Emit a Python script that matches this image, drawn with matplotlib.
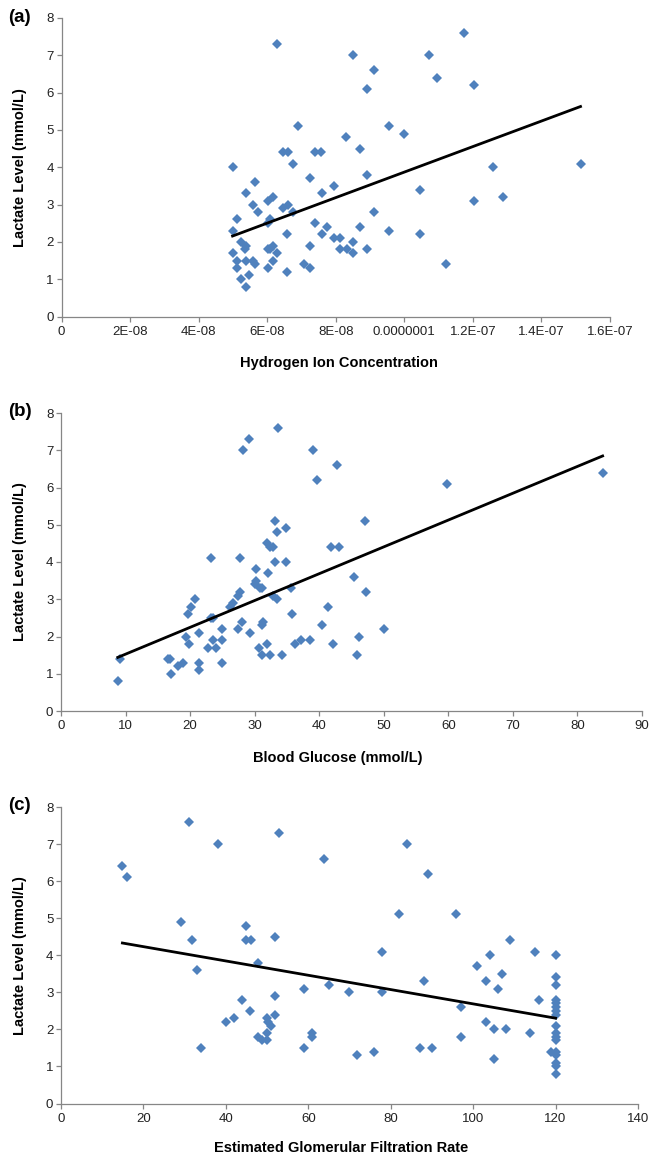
import numpy as np
import matplotlib
matplotlib.use("Agg")
import matplotlib.pyplot as plt
from matplotlib.ticker import FixedLocator, FixedFormatter, MultipleLocator

plt.rcParams['font.family'] = ['Liberation Sans', 'DejaVu Sans']

# ---------------- data ----------------
# (a) hydrogen ion concentration in nmol/L (x1e-9 mol/L) vs lactate
h_ion_nmol = [63.0, 85.0, 91.1, 89.2, 69.0, 95.5, 100.0, 83.1, 87.1, 64.5,
              66.0, 74.0, 75.8, 67.6, 50.0, 89.2, 72.4, 56.3, 79.5, 53.7,
              75.9, 60.1, 61.7, 56.0, 64.5, 66.0, 67.5, 57.4, 91.1, 51.1,
              60.9, 60.1, 49.9, 74.0, 77.5, 87.1, 95.5, 65.9, 75.9, 79.5,
              81.3, 52.3, 53.7, 53.5, 85.1, 50.0, 60.9, 61.7, 60.1, 63.0,
              72.4, 81.3, 83.3, 85.1, 89.2, 51.1, 53.7, 56.0, 56.3, 61.6,
              51.1, 60.1, 70.6, 72.4, 52.3, 54.8, 65.9, 53.7,
              117.5, 107.2, 109.6, 120.2, 126.0, 151.4, 104.7, 120.2, 128.9,
              104.7, 112.3]
lactate_a = [7.3, 7.0, 6.6, 6.1, 5.1, 5.1, 4.9, 4.8, 4.5, 4.4,
             4.4, 4.4, 4.4, 4.1, 4.0, 3.8, 3.7, 3.6, 3.5, 3.3,
             3.3, 3.1, 3.2, 3.0, 2.9, 3.0, 2.8, 2.8, 2.8, 2.6,
             2.6, 2.5, 2.3, 2.5, 2.4, 2.4, 2.3, 2.2, 2.2, 2.1,
             2.1, 2.0, 1.9, 1.8, 2.0, 1.7, 1.8, 1.9, 1.8, 1.7,
             1.9, 1.8, 1.8, 1.7, 1.8, 1.5, 1.5, 1.5, 1.4, 1.5,
             1.3, 1.3, 1.4, 1.3, 1.0, 1.1, 1.2, 0.8,
             7.6, 7.0, 6.4, 6.2, 4.0, 4.1, 3.4, 3.1, 3.2,
             2.2, 1.4]
trend_a = (3.42e7, 0.45)  # slope per mol/L, intercept
xticks_a = [0, 2e-8, 4e-8, 6e-8, 8e-8, 1e-7, 1.2e-7, 1.4e-7, 1.6e-7]
xticklabels_a = ["0", "2E-08", "4E-08", "6E-08", "8E-08", "0.0000001",
                 "1.2E-07", "1.4E-07", "1.6E-07"]

# (b) blood glucose vs lactate
glucose = [33.6, 29.1, 28.2, 33.1, 34.9, 33.5, 31.9, 32.3, 32.9, 23.2,
           27.7, 33.2, 34.9, 30.2, 32.1, 30.2, 30.0, 30.8, 31.1, 27.7,
           27.4, 26.7, 26.2, 32.9, 33.5, 20.8, 20.1, 19.7, 23.6, 23.2,
           28.1, 27.4, 31.3, 31.1, 24.9, 29.3, 21.4, 19.4, 19.9, 23.6,
           24.0, 25.0, 22.7, 30.6, 31.9, 31.1, 32.4, 34.2, 16.5, 16.9,
           25.0, 18.2, 18.9, 21.4, 21.3, 17.1, 8.8, 9.1,
           39.0, 42.7, 39.6, 59.8, 83.9, 47.1, 41.8, 43.0, 45.4, 47.2,
           35.6, 35.8, 41.3, 40.4, 50.0, 36.3, 37.2, 38.6, 42.1, 46.1, 45.8]
lactate_b = [7.6, 7.3, 7.0, 5.1, 4.9, 4.8, 4.5, 4.4, 4.4, 4.1,
             4.1, 4.0, 4.0, 3.8, 3.7, 3.5, 3.4, 3.3, 3.3, 3.2,
             3.1, 2.9, 2.8, 3.1, 3.0, 3.0, 2.8, 2.6, 2.5, 2.5,
             2.4, 2.2, 2.4, 2.3, 2.2, 2.1, 2.1, 2.0, 1.8, 1.9,
             1.7, 1.9, 1.7, 1.7, 1.8, 1.5, 1.5, 1.5, 1.4, 1.4,
             1.3, 1.2, 1.3, 1.3, 1.1, 1.0, 0.8, 1.4,
             7.0, 6.6, 6.2, 6.1, 6.4, 5.1, 4.4, 4.4, 3.6, 3.2,
             3.3, 2.6, 2.8, 2.3, 2.2, 1.8, 1.9, 1.9, 1.8, 2.0, 1.5]
trend_b = (0.072, 0.806)

# (c) eGFR vs lactate
egfr = [14.9, 15.9, 31.0, 38.0, 52.9, 63.9, 29.0, 44.9, 31.9, 44.9,
        46.0, 51.9, 32.9, 47.9, 59.0, 65.0, 70.0, 43.8, 51.9, 45.9,
        40.0, 42.0, 49.9, 50.3, 50.9, 51.9, 49.9, 47.9, 48.7, 49.9,
        61.0, 61.0, 34.0, 59.0, 71.9,
        84.0, 89.0, 82.0, 95.9, 77.9, 109.0, 115.0, 104.0, 100.9, 107.0,
        103.0, 88.0, 106.0, 77.9, 116.0, 97.0, 103.0, 105.0, 108.0, 113.9,
        97.0, 87.0, 90.0, 76.0, 105.0, 119.0,
        120, 120, 120, 120, 120, 120, 120, 120, 120, 120,
        120, 120, 120, 120, 120, 120, 120]
lactate_c = [6.4, 6.1, 7.6, 7.0, 7.3, 6.6, 4.9, 4.8, 4.4, 4.4,
             4.4, 4.5, 3.6, 3.8, 3.1, 3.2, 3.0, 2.8, 2.9, 2.5,
             2.2, 2.3, 2.3, 2.2, 2.1, 2.4, 1.9, 1.8, 1.7, 1.7,
             1.9, 1.8, 1.5, 1.5, 1.3,
             7.0, 6.2, 5.1, 5.1, 4.1, 4.4, 4.1, 4.0, 3.7, 3.5,
             3.3, 3.3, 3.1, 3.0, 2.8, 2.6, 2.2, 2.0, 2.0, 1.9,
             1.8, 1.5, 1.5, 1.4, 1.2, 1.4,
             4.0, 3.4, 3.2, 2.8, 2.7, 2.6, 2.5, 2.4, 2.1, 1.9,
             1.8, 1.7, 1.4, 1.3, 1.1, 1.0, 0.8]
trend_c = (-0.0193, 4.618)

y_title = "Lactate Level (mmol/L)"
x_titles = ["Hydrogen Ion Concentration", "Blood Glucose (mmol/L)",
            "Estimated Glomerular Filtration Rate"]
panel_labels = ["(a)", "(b)", "(c)"]

# ---------------- drawing ----------------
W, H = 654, 1159
fig = plt.figure(figsize=(W / 100, H / 100), dpi=100)

def px_axes(l, r, t, b):
    return fig.add_axes([l / W, 1 - b / H, (r - l) / W, (b - t) / H])

blue = '#4F81BD'
grey = '#868686'

axes_px = [(61.5, 610, 18, 316.5), (61, 642, 413, 711), (61, 638, 807, 1103.5)]
xs = [np.array(h_ion_nmol) * 1e-9, np.array(glucose), np.array(egfr)]
ys = [np.array(lactate_a), np.array(lactate_b), np.array(lactate_c)]
trends = [trend_a, trend_b, trend_c]
xlims = [(0, 1.6e-7), (0, 90), (0, 140)]
xsteps = [None, 10, 20]
xtitle_pos = [(339, 363), (338, 758), (341, 1148)]

for i in range(3):
    ax = px_axes(*axes_px[i])
    x, y = xs[i], ys[i]
    ax.plot(x, y, linestyle='none', marker='D', markersize=5.0,
            color=blue, markeredgewidth=0, zorder=3)
    m, c = trends[i]
    xt = np.array([x.min(), x.max()])
    ax.plot(xt, m * xt + c, color='black', linewidth=2.0, zorder=4)
    ax.set_xlim(*xlims[i])
    ax.set_ylim(0, 8)
    ax.yaxis.set_major_locator(MultipleLocator(1))
    if i == 0:
        ax.xaxis.set_major_locator(FixedLocator(xticks_a))
        ax.xaxis.set_major_formatter(FixedFormatter(xticklabels_a))
    else:
        ax.xaxis.set_major_locator(MultipleLocator(xsteps[i]))
    for s in ['top', 'right']:
        ax.spines[s].set_visible(False)
    for s in ['left', 'bottom']:
        ax.spines[s].set_color(grey)
        ax.spines[s].set_linewidth(0.9)
    ax.tick_params(axis='both', direction='out', length=3.5, width=0.9,
                   color=grey, labelsize=9.5, labelcolor='#222222', pad=2)
    ax.tick_params(axis='x', pad=3)
    ax.set_facecolor('white')

    l, r, t, b = axes_px[i]
    fig.text(20 / W, 1 - ((t + b) / 2) / H, y_title, rotation=90,
             ha='center', va='center', fontsize=10.5, fontweight='bold')
    tx, ty = xtitle_pos[i]
    fig.text(tx / W, 1 - ty / H, x_titles[i], ha='center', va='center',
             fontsize=10.5, fontweight='bold')
    fig.text(8 / W, 1 - (t - 1) / H, panel_labels[i], ha='left', va='center',
             fontsize=13.5, fontweight='bold')

fig.savefig('out.png', dpi=100, facecolor='white')
